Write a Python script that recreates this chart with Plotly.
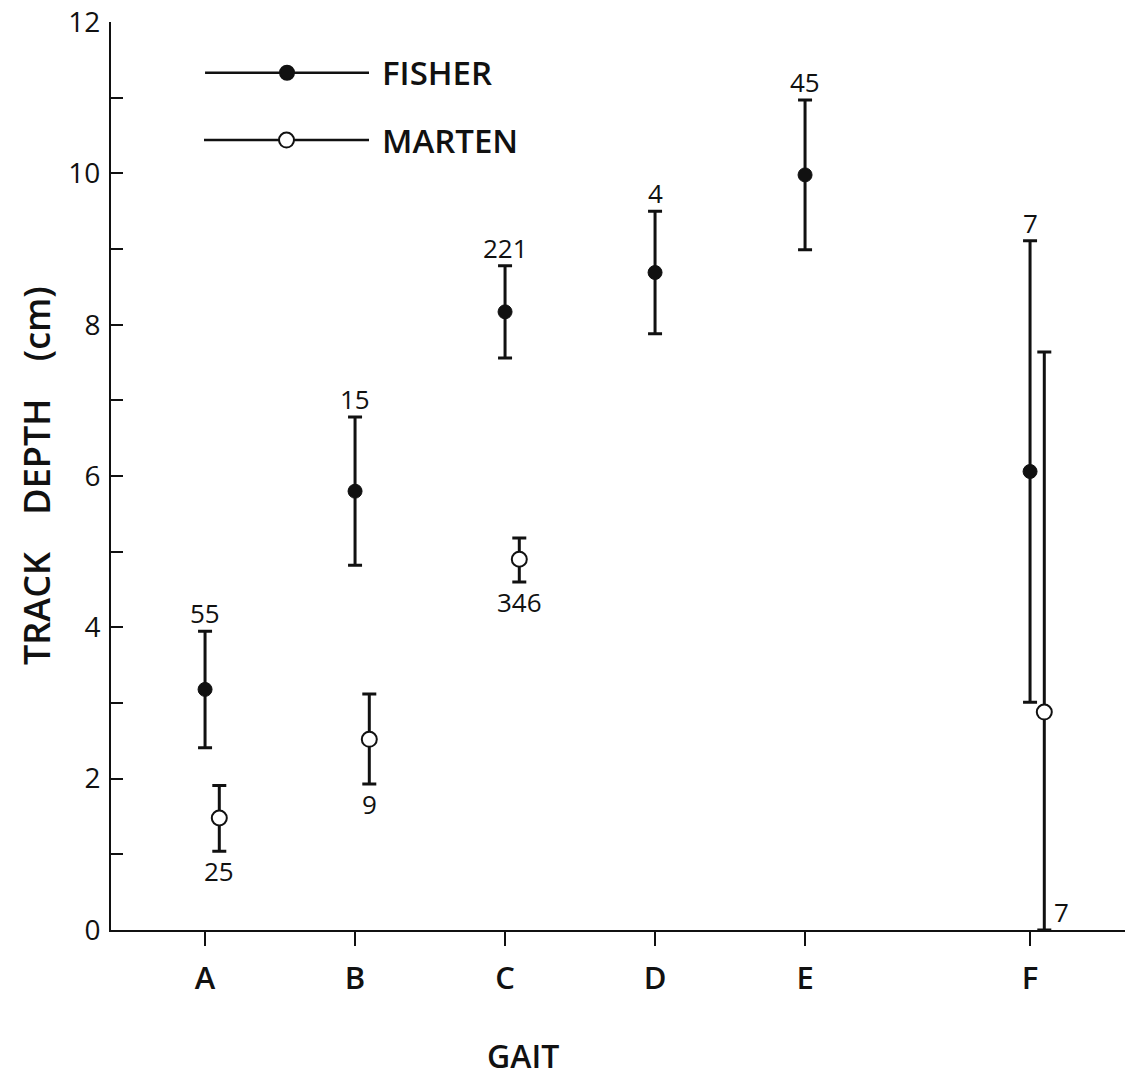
import plotly.graph_objects as go

# ---- data ----
gait_labels = ["A", "B", "C", "D", "E", "F"]
gait_pos = [1, 2, 3, 4, 5, 6.5]

fisher_mean = [3.18, 5.80, 8.17, 8.69, 9.98, 6.06]
fisher_err = [0.77, 0.98, 0.61, 0.81, 0.99, 3.05]
fisher_n = ["55", "15", "221", "4", "45", "7"]

marten_gait = ["A", "B", "C", "F"]
marten_mean = [1.48, 2.52, 4.90, 2.88]
marten_err_plus = [0.43, 0.60, 0.28, 4.76]
marten_err_minus = [0.44, 0.59, 0.30, 2.88]
marten_n = ["25", "9", "346", "7"]

y_ticks = list(range(0, 13))
y_ticklabels = [str(v) if v % 2 == 0 else "" for v in y_ticks]

# ---- layout constants ----
INK = "#111111"
FONT = "Open Sans"
marten_offset = 0.095
pos_of = dict(zip(gait_labels, gait_pos))
fisher_x = gait_pos
marten_x = [pos_of[g] + marten_offset for g in marten_gait]

fig = go.Figure()

fig.add_trace(go.Scatter(
    x=fisher_x, y=fisher_mean, mode="markers",
    marker=dict(size=14, color=INK, line=dict(color=INK, width=1)),
    error_y=dict(type="data", array=fisher_err, visible=True,
                 color=INK, thickness=3, width=7),
    showlegend=False, cliponaxis=False,
))
fig.add_trace(go.Scatter(
    x=marten_x, y=marten_mean, mode="markers",
    marker=dict(size=15, color="white", line=dict(color=INK, width=2)),
    error_y=dict(type="data", symmetric=False, array=marten_err_plus,
                 arrayminus=marten_err_minus, visible=True,
                 color=INK, thickness=3, width=7),
    showlegend=False, cliponaxis=False,
))

annotations = []
num_font = dict(size=26, color=INK, family=FONT)
# fisher sample sizes above error bars
for x, m, e, n in zip(fisher_x, fisher_mean, fisher_err, fisher_n):
    annotations.append(dict(x=x, y=m + e, text=n, showarrow=False,
                            yanchor="bottom", xanchor="center", yshift=-2,
                            font=num_font))
# marten sample sizes below error bars (last one to the right of the cap)
for x, m, e, n in zip(marten_x, marten_mean, marten_err_minus, marten_n):
    if m - e <= 0.01:
        annotations.append(dict(x=x, y=m - e, text=n, showarrow=False,
                                yanchor="bottom", xanchor="left", xshift=8, yshift=-2,
                                font=num_font))
    else:
        annotations.append(dict(x=x, y=m - e, text=n, showarrow=False,
                                yanchor="top", xanchor="center", yshift=0,
                                font=num_font))

# legend drawn as in the original figure
legend_items = [("FISHER", INK, 11.33, 14, 1.0), ("MARTEN", "white", 10.44, 15, 0.993)]
for name, fill, ly, msize, x0 in legend_items:
    fig.add_trace(go.Scatter(
        x=[x0, 2.093], y=[ly, ly], mode="lines",
        line=dict(color=INK, width=2.5), showlegend=False, hoverinfo="skip"))
    fig.add_trace(go.Scatter(
        x=[(x0 + 2.093) / 2], y=[ly], mode="markers",
        marker=dict(size=msize, color=fill, line=dict(color=INK, width=2)),
        showlegend=False, hoverinfo="skip"))
    annotations.append(dict(x=2.165, y=ly, text=name, showarrow=False,
                            xanchor="left", yanchor="middle",
                            font=dict(size=33, color=INK, family=FONT, weight=600)))

# axis titles
annotations.append(dict(xref="paper", yref="paper", x=0, y=0.5, xshift=-75,
                        text="TRACK    DEPTH    (cm)", textangle=-90, showarrow=False,
                        xanchor="center", yanchor="middle",
                        font=dict(size=36, color=INK, family=FONT, weight=600)))
annotations.append(dict(xref="paper", yref="paper", x=0.406, y=0, yshift=-125,
                        text="GAIT", showarrow=False,
                        xanchor="center", yanchor="middle",
                        font=dict(size=32, color=INK, family=FONT, weight=600)))

fig.update_layout(
    width=1127, height=1089,
    margin=dict(l=111, r=2, t=22, b=159, autoexpand=False),
    paper_bgcolor="white", plot_bgcolor="white",
    annotations=annotations,
    xaxis=dict(range=[0.373, 7.133], tickvals=gait_pos, ticktext=gait_labels,
               showgrid=False, zeroline=False, showline=True, linecolor=INK,
               linewidth=2, ticks="outside", ticklen=14, tickwidth=2,
               tickcolor=INK, tickfont=dict(size=31, color=INK, family=FONT, weight=600),
               ticklabelstandoff=6, automargin=False),
    yaxis=dict(range=[0, 12.001], tickvals=y_ticks, ticktext=y_ticklabels,
               showgrid=False, zeroline=False, showline=True, linecolor=INK,
               linewidth=2, ticks="inside", ticklen=12, tickwidth=2,
               tickcolor=INK, tickfont=dict(size=28, color=INK, family=FONT),
               ticklabelstandoff=3, ticklabeloverflow="allow", automargin=False),
)

fig.write_html("out.html", config={"displayModeBar": False},
               post_script="document.body.style.margin='0';document.body.style.padding='0';")
